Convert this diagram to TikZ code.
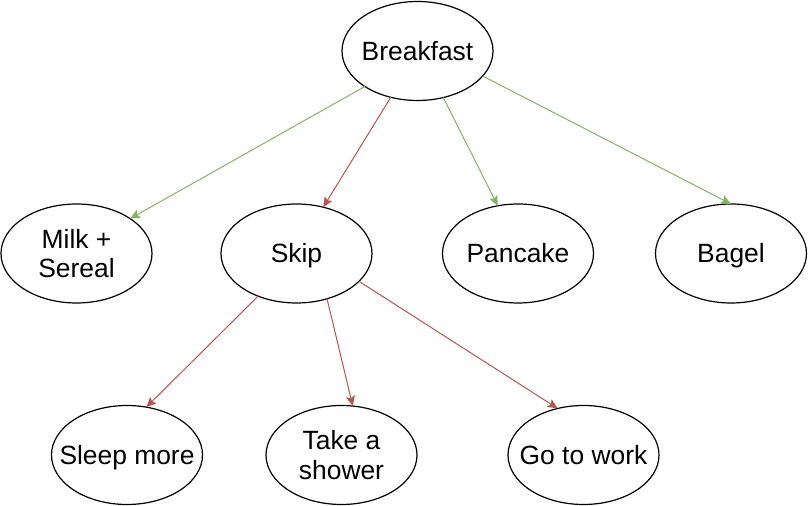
\documentclass[tikz,border=0pt]{standalone}
\usepackage{fontspec}
\setmainfont{Liberation Sans}
\usepackage{xcolor}
\definecolor{yesgreen}{HTML}{82B366}
\definecolor{skipred}{HTML}{B85450}
\usetikzlibrary{shapes.geometric,arrows.meta}
\newcommand{\choicetext}[1]{\makebox[0pt]{\raisebox{-1.8pt}[\height][\depth]{\begin{tabular}{@{}c@{}}#1\end{tabular}}}}

\begin{document}
\begin{tikzpicture}[x=0.5pt,y=-0.5pt,
    choice/.style={ellipse,draw=black,line width=0.6pt,minimum width=75.5pt,
      minimum height=49.5pt,inner sep=0pt,outer sep=0pt,
      font=\fontsize{13.2}{14.6}\selectfont},
    good/.style={draw=yesgreen,line width=0.5pt,-{Stealth[length=5pt,width=4.4pt,inset=1pt]}},
    bad/.style={draw=skipred,line width=0.5pt,-{Stealth[length=5pt,width=4.4pt,inset=1pt]}}]
        \useasboundingbox (0,0) rectangle (809,506);

        \node[choice] (bf) at (417.5,51) {\choicetext{Breakfast}};

        \node[choice] (milk) at (76.5,253.5) {\choicetext{Milk +\\Sereal}};
        \node[choice] (skip) at (296.5,253.5) {\choicetext{Skip}};
        \node[choice] (pan) at (518,253.5) {\choicetext{Pancake}};
        \node[choice] (bagel) at (731,253.5) {\choicetext{Bagel}};

        \node[choice] (sleep) at (127,455) {\choicetext{Sleep more}};
        \node[choice] (shower) at (341.5,455) {\choicetext{Take a\\shower}};
        \node[choice] (work) at (583.5,455) {\choicetext{Go to work}};

        \path

        (bf.-146) edge[good] (milk.33.5)

        (bf.-120.6) edge[bad] (skip.60)

        (bf.-61.6) edge[good] (pan.113)

        (bf.-21.5) edge[good] (bagel.90)

        (skip.-132) edge[bad] (sleep.68)

        (skip.-56.6) edge[bad] (shower.77)

        (skip.-24.8) edge[bad] (work.119)
        ;
\end{tikzpicture}
\end{document}
